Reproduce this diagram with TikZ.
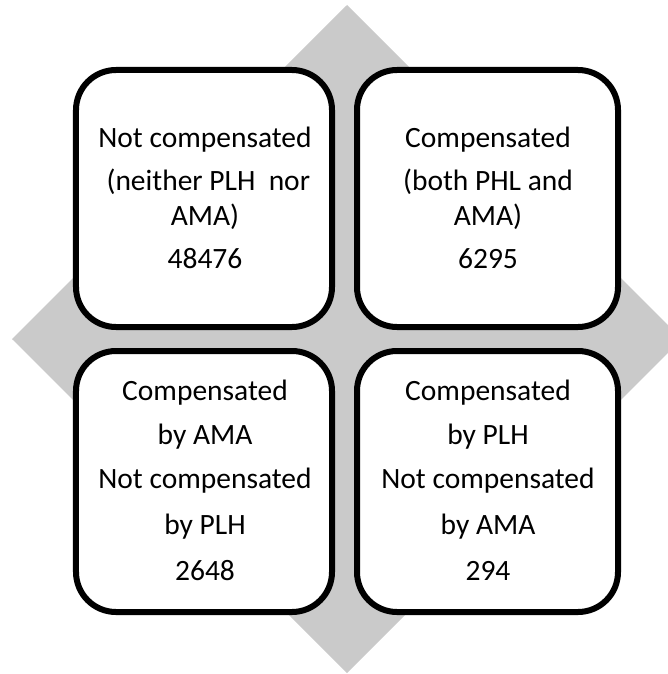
\documentclass[tikz,border=0pt]{standalone}
\usepackage{fontspec}
\setmainfont{Carlito}
\definecolor{diamondgray}{RGB}{202,202,202}
\begin{document}
\begin{tikzpicture}[x=1bp,y=-1bp,
  boxstyle/.style={draw=black, line width=6bp, rounded corners=40bp, fill=white, inner sep=0pt},
  txt/.style={anchor=base, inner sep=0pt, font=\fontsize{29.6pt}{35pt}\selectfont}]
\clip (0,0) rectangle (668,674);
\fill[diamondgray] (347,5) -- (682,339) -- (347,673) -- (12,339) -- cycle;
% boxes
\node[boxstyle, minimum width=256bp, minimum height=257bp] (tl) at (204,198.5) {};
\node[boxstyle, minimum width=261bp, minimum height=257bp] (tr) at (487.5,198.5) {};
\node[boxstyle, minimum width=256bp, minimum height=261bp] (bl) at (204,481.5) {};
\node[boxstyle, minimum width=261bp, minimum height=261bp] (br) at (487.5,481.5) {};
% top-left text
\node[txt] (tl1) at (205,147) {Not compensated};
\node[txt] (tl2) at (205,190) {\ (neither PLH\ \ nor};
\node[txt] (tl3) at (205,225) {AMA)};
\node[txt] (tl4) at (205,268) {48476};
% top-right text
\node[txt] (tr1) at (488,147) {Compensated};
\node[txt] (tr2) at (488,190) {(both PHL and};
\node[txt] (tr3) at (488,225) {AMA)};
\node[txt] (tr4) at (488,268) {6295};
% bottom-left text
\node[txt] (bl1) at (205,400) {Compensated};
\node[txt] (bl2) at (205,444) {by AMA};
\node[txt] (bl3) at (205,488) {Not compensated};
\node[txt] (bl4) at (205,534) {by PLH};
\node[txt] (bl5) at (205,580) {2648};
% bottom-right text
\node[txt] (br1) at (488,400) {Compensated};
\node[txt] (br2) at (488,444) {by PLH};
\node[txt] (br3) at (488,488) {Not compensated};
\node[txt] (br4) at (488,534) {by AMA};
\node[txt] (br5) at (488,580) {294};
\end{tikzpicture}
\end{document}
